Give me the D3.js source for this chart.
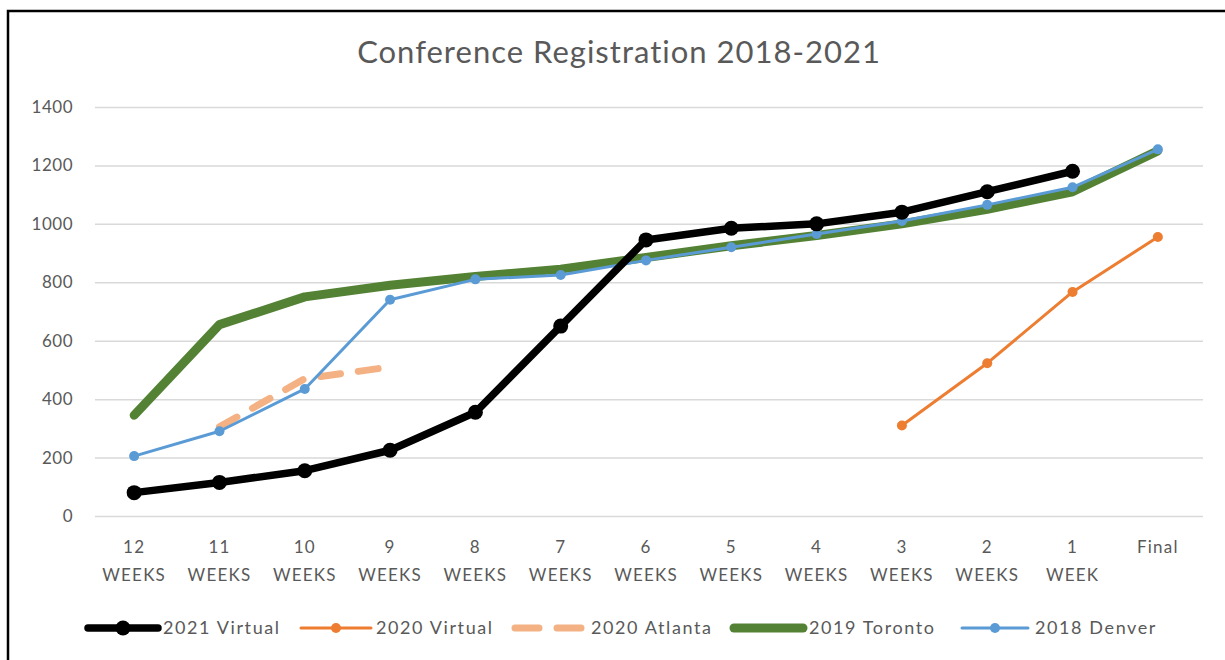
<!DOCTYPE html>
<html>
<head>
<meta charset="utf-8">
<script src="https://cdn.jsdelivr.net/npm/d3@7"></script>
<style>
  html, body { margin: 0; padding: 0; background: #fff; }
  svg { display: block; }
  text { font-family: Lato, "Open Sans", sans-serif; fill: #595959; }
</style>
</head>
<body>
<svg id="chart" width="1225" height="660"></svg>
<script>
const categories = [["12","WEEKS"],["11","WEEKS"],["10","WEEKS"],["9","WEEKS"],["8","WEEKS"],["7","WEEKS"],["6","WEEKS"],["5","WEEKS"],["4","WEEKS"],["3","WEEKS"],["2","WEEKS"],["1","WEEK"],["Final"]];
const yTicks = [0, 200, 400, 600, 800, 1000, 1200, 1400];
const titleText = "Conference Registration 2018-2021";

const v2021Virtual = [80, 115, 155, 225, 355, 650, 945, 985, 1000, 1040, 1110, 1180, null];
const v2020Virtual = [null, null, null, null, null, null, null, null, null, 310, 523, 767, 955];
const v2020Atlanta = [null, 305, 470, 510, null, null, null, null, null, null, null, null, null];
const v2019Toronto = [345, 655, 750, 790, 820, 845, 885, 925, 960, 1000, 1050, 1110, 1250];
const v2018Denver  = [205, 290, 435, 740, 810, 825, 875, 920, 965, 1010, 1065, 1125, 1255];

const seriesNames = ["2021 Virtual", "2020 Virtual", "2020 Atlanta", "2019 Toronto", "2018 Denver"];

const styles = {
  "2021 Virtual": { color: "#000000", width: 7.5, r: 7.5, dash: null },
  "2020 Virtual": { color: "#ED7D31", width: 3, r: 5, dash: null },
  "2020 Atlanta": { color: "#F4B183", width: 7, r: 0, dash: "20 18" },
  "2019 Toronto": { color: "#548235", width: 9, r: 0, dash: null },
  "2018 Denver":  { color: "#5B9BD5", width: 3, r: 5, dash: null }
};
const seriesValues = {
  "2021 Virtual": v2021Virtual,
  "2020 Virtual": v2020Virtual,
  "2020 Atlanta": v2020Atlanta,
  "2019 Toronto": v2019Toronto,
  "2018 Denver": v2018Denver
};
const drawOrder = ["2019 Toronto", "2020 Atlanta", "2018 Denver", "2020 Virtual", "2021 Virtual"];

const svg = d3.select("#chart");
svg.append("rect").attr("x", 8).attr("y", 11).attr("width", 1240).attr("height", 700)
  .attr("fill", "#fff").attr("stroke", "#000").attr("stroke-width", 2.5);

const x = d3.scaleBand().domain(categories.map((d, i) => i)).range([91.5, 1200.5]);
const y = d3.scaleLinear().domain([0, 1400]).range([516, 107]);
const cx = i => x(i) + x.bandwidth() / 2;

// title
svg.append("text").attr("x", 619).attr("y", 63).attr("text-anchor", "middle")
  .style("font-size", "31px").style("letter-spacing", "1px").text(titleText);

// gridlines + y axis
const yAxis = d3.axisLeft(y).tickValues(yTicks).tickFormat(d3.format("d"))
  .tickSize(-(1203 - 95)).tickPadding(22);
const gy = svg.append("g").attr("transform", "translate(95,0)").call(yAxis);
gy.select(".domain").remove();
gy.selectAll(".tick line").attr("stroke", "#d9d9d9").attr("stroke-width", 1.5);
gy.selectAll(".tick text").style("font-size", "17px").style("letter-spacing", "0.5px").attr("fill", "#595959");

// x labels
const xAxis = d3.axisBottom(x).tickSize(0).tickFormat(() => "");
const gx = svg.append("g").attr("transform", "translate(0,516)").call(xAxis);
gx.select(".domain").remove();
gx.selectAll(".tick").each(function(i) {
  const t = d3.select(this).append("text").attr("text-anchor", "middle")
    .style("font-size", "17px").style("letter-spacing", "1.2px").attr("fill", "#595959");
  categories[i].forEach((s, k) => {
    t.append("tspan").attr("x", 0).attr("y", 37 + k * 28).text(s);
  });
});

// lines
const line = d3.line().defined(d => d != null).x((d, i) => cx(i)).y(d => y(d));
drawOrder.forEach(name => {
  const st = styles[name];
  const vals = seriesValues[name];
  svg.append("path").datum(vals).attr("d", line)
    .attr("fill", "none").attr("stroke", st.color).attr("stroke-width", st.width)
    .attr("stroke-linejoin", "round")
    .attr("stroke-linecap", "round")
    .attr("stroke-dasharray", st.dash);
  if (st.r > 0) {
    svg.append("g").selectAll("circle")
      .data(vals.map((v, i) => ({ v, i })).filter(d => d.v != null))
      .join("circle").attr("cx", d => cx(d.i)).attr("cy", d => y(d.v))
      .attr("r", st.r).attr("fill", st.color);
  }
});

// legend
const legendY = 628;
const legendItems = [
  { name: "2021 Virtual", x0: 88, x1: 158, tx: 163 },
  { name: "2020 Virtual", x0: 301, x1: 371, tx: 376 },
  { name: "2020 Atlanta", x0: 515, x1: 582, tx: 591 },
  { name: "2019 Toronto", x0: 734, x1: 803, tx: 809 },
  { name: "2018 Denver", x0: 962, x1: 1028, tx: 1035 }
];
const lg = svg.append("g");
legendItems.forEach(it => {
  const st = styles[it.name];
  lg.append("line").attr("x1", it.x0).attr("x2", it.x1).attr("y1", legendY).attr("y2", legendY)
    .attr("stroke", st.color).attr("stroke-width", st.width).attr("stroke-linecap", "round")
    .attr("stroke-dasharray", st.dash ? "24 18" : null);
  if (st.r > 0) {
    lg.append("circle").attr("cx", (it.x0 + it.x1) / 2).attr("cy", legendY).attr("r", st.r).attr("fill", st.color);
  }
  lg.append("text").attr("x", it.tx).attr("y", legendY + 6).style("font-size", "18px")
    .style("letter-spacing", "1.6px").attr("fill", "#595959").text(it.name);
});
</script>
</body>
</html>
